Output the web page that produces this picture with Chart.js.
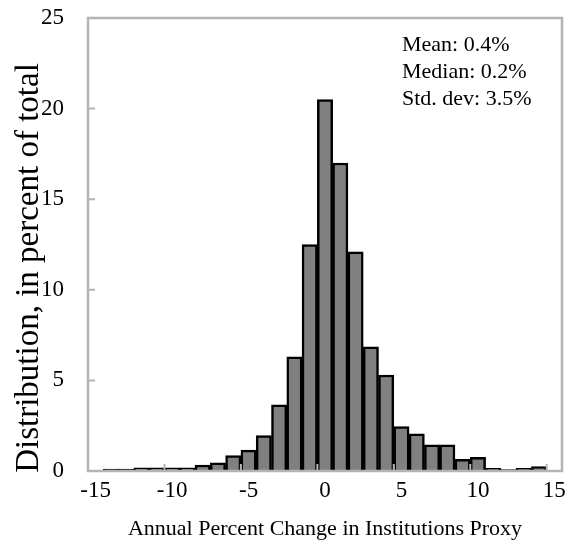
<!DOCTYPE html>
<html>
<head>
<meta charset="utf-8">
<script src="https://cdn.jsdelivr.net/npm/chart.js@4.4.1/dist/chart.umd.min.js"></script>
<style>
	html, body { margin: 0; padding: 0; background: #fff; }
	#wrap { width: 575px; height: 551px; }
</style>
</head>
<body>
<div id="wrap"><canvas id="histo" width="575" height="551"></canvas></div>
<script>
	// bins: annual percent change, one bar per integer
	var binLabels = ['-15','-14','-13','-12','-11','-10','-9','-8','-7','-6','-5','-4','-3','-2','-1',
		'0','1','2','3','4','5','6','7','8','9','10','11','12','13','14','15'];
	// share of observations, percent of total
	var binShares = [0, 0.1, 0.1, 0.18, 0.18, 0.18, 0.18, 0.33, 0.45, 0.85, 1.15, 1.95, 3.65, 6.3, 12.5,
		20.5, 17.0, 12.1, 6.85, 5.3, 2.45, 2.05, 1.45, 1.45, 0.65, 0.75, 0.15, 0.08, 0.15, 0.25, 0];
	var yTicks = [0, 5, 10, 15, 20, 25];
	var statLines = ['Mean: 0.4%', 'Median: 0.2%', 'Std. dev: 3.5%'];

	var serif = '"Liberation Serif", "Times New Roman", serif';
	var axisGray = '#b4b4b4';

	var frame = {
		id: 'frame',
		afterDatasetsDraw: function(chart){
			var ctx = chart.ctx;
			var a = chart.chartArea;
			var xs = chart.scales.x, ys = chart.scales.y;
			ctx.save();
			ctx.strokeStyle = axisGray;
			ctx.lineWidth = 2.5;
			ctx.strokeRect(a.left, a.top, a.right - a.left, a.bottom - a.top);
			ctx.lineWidth = 2;
			ctx.beginPath();
			// inside tick marks on the y axis
			yTicks.forEach(function(v){
				var py = ys.getPixelForValue(v);
				ctx.moveTo(a.left, py);
				ctx.lineTo(a.left + 7, py);
			});
			// inside tick marks on the x axis, between bins, every 5th
			for(var i = 5; i < binLabels.length; i += 5){
				var px = xs.getPixelForValue(i - 0.5);
				ctx.moveTo(px, a.bottom);
				ctx.lineTo(px, a.bottom - 7);
			}
			ctx.stroke();
			ctx.restore();
		},
		afterDraw: function(chart){
			var ctx = chart.ctx;
			var a = chart.chartArea;
			ctx.save();
			ctx.fillStyle = '#000';
			ctx.font = '22px ' + serif;
			ctx.textAlign = 'left';
			ctx.textBaseline = 'alphabetic';
			statLines.forEach(function(t, i){
				ctx.fillText(t, 402, 51 + i * 27);
			});

			ctx.font = '22px ' + serif;
			ctx.textAlign = 'center';
			ctx.fillText('Annual Percent Change in Institutions Proxy', (a.left + a.right) / 2, 535);

			ctx.translate(38, 268);
			ctx.rotate(-Math.PI / 2);
			ctx.font = '33px ' + serif;
			ctx.fillText('Distribution, in percent of total', 0, 0);
			ctx.restore();
		}
	};

	var histoChart = new Chart(document.getElementById('histo').getContext('2d'), {
		type: 'bar',
		data: {
			labels: binLabels,
			datasets: [{
				data: binShares,
				backgroundColor: '#808080',
				borderColor: '#000000',
				borderWidth: 2.5,
				barPercentage: 1,
				categoryPercentage: 1
			}]
		},
		options: {
			responsive: false,
			animation: false,
			events: [],
			layout: { padding: { top: 18, right: 13, left: 0, bottom: 0 } },
			plugins: { legend: { display: false }, tooltip: { enabled: false } },
			scales: {
				x: {
					offset: true,
					border: { display: false },
					grid: { display: false, drawTicks: false },
					ticks: {
						autoSkip: false,
						maxRotation: 0,
						padding: 6,
						color: '#000',
						font: { family: serif, size: 23 },
						callback: function(v, i){
							var lab = binLabels[i];
							return (Number(lab) % 5 === 0) ? lab : '';
						}
					},
					afterFit: function(s){
						s.height = 80;
						s.paddingLeft = 0;
						s.paddingRight = 0;
					}
				},
				y: {
					min: 0,
					max: 25,
					border: { display: false },
					grid: { display: false, drawTicks: false },
					ticks: {
						stepSize: 5,
						padding: 24,
						color: '#000',
						font: { family: serif, size: 23 }
					},
					afterFit: function(s){
						s.width = 88;
						s.paddingTop = 0;
						s.paddingBottom = 0;
					}
				}
			}
		},
		plugins: [frame]
	});
</script>
</body>
</html>
